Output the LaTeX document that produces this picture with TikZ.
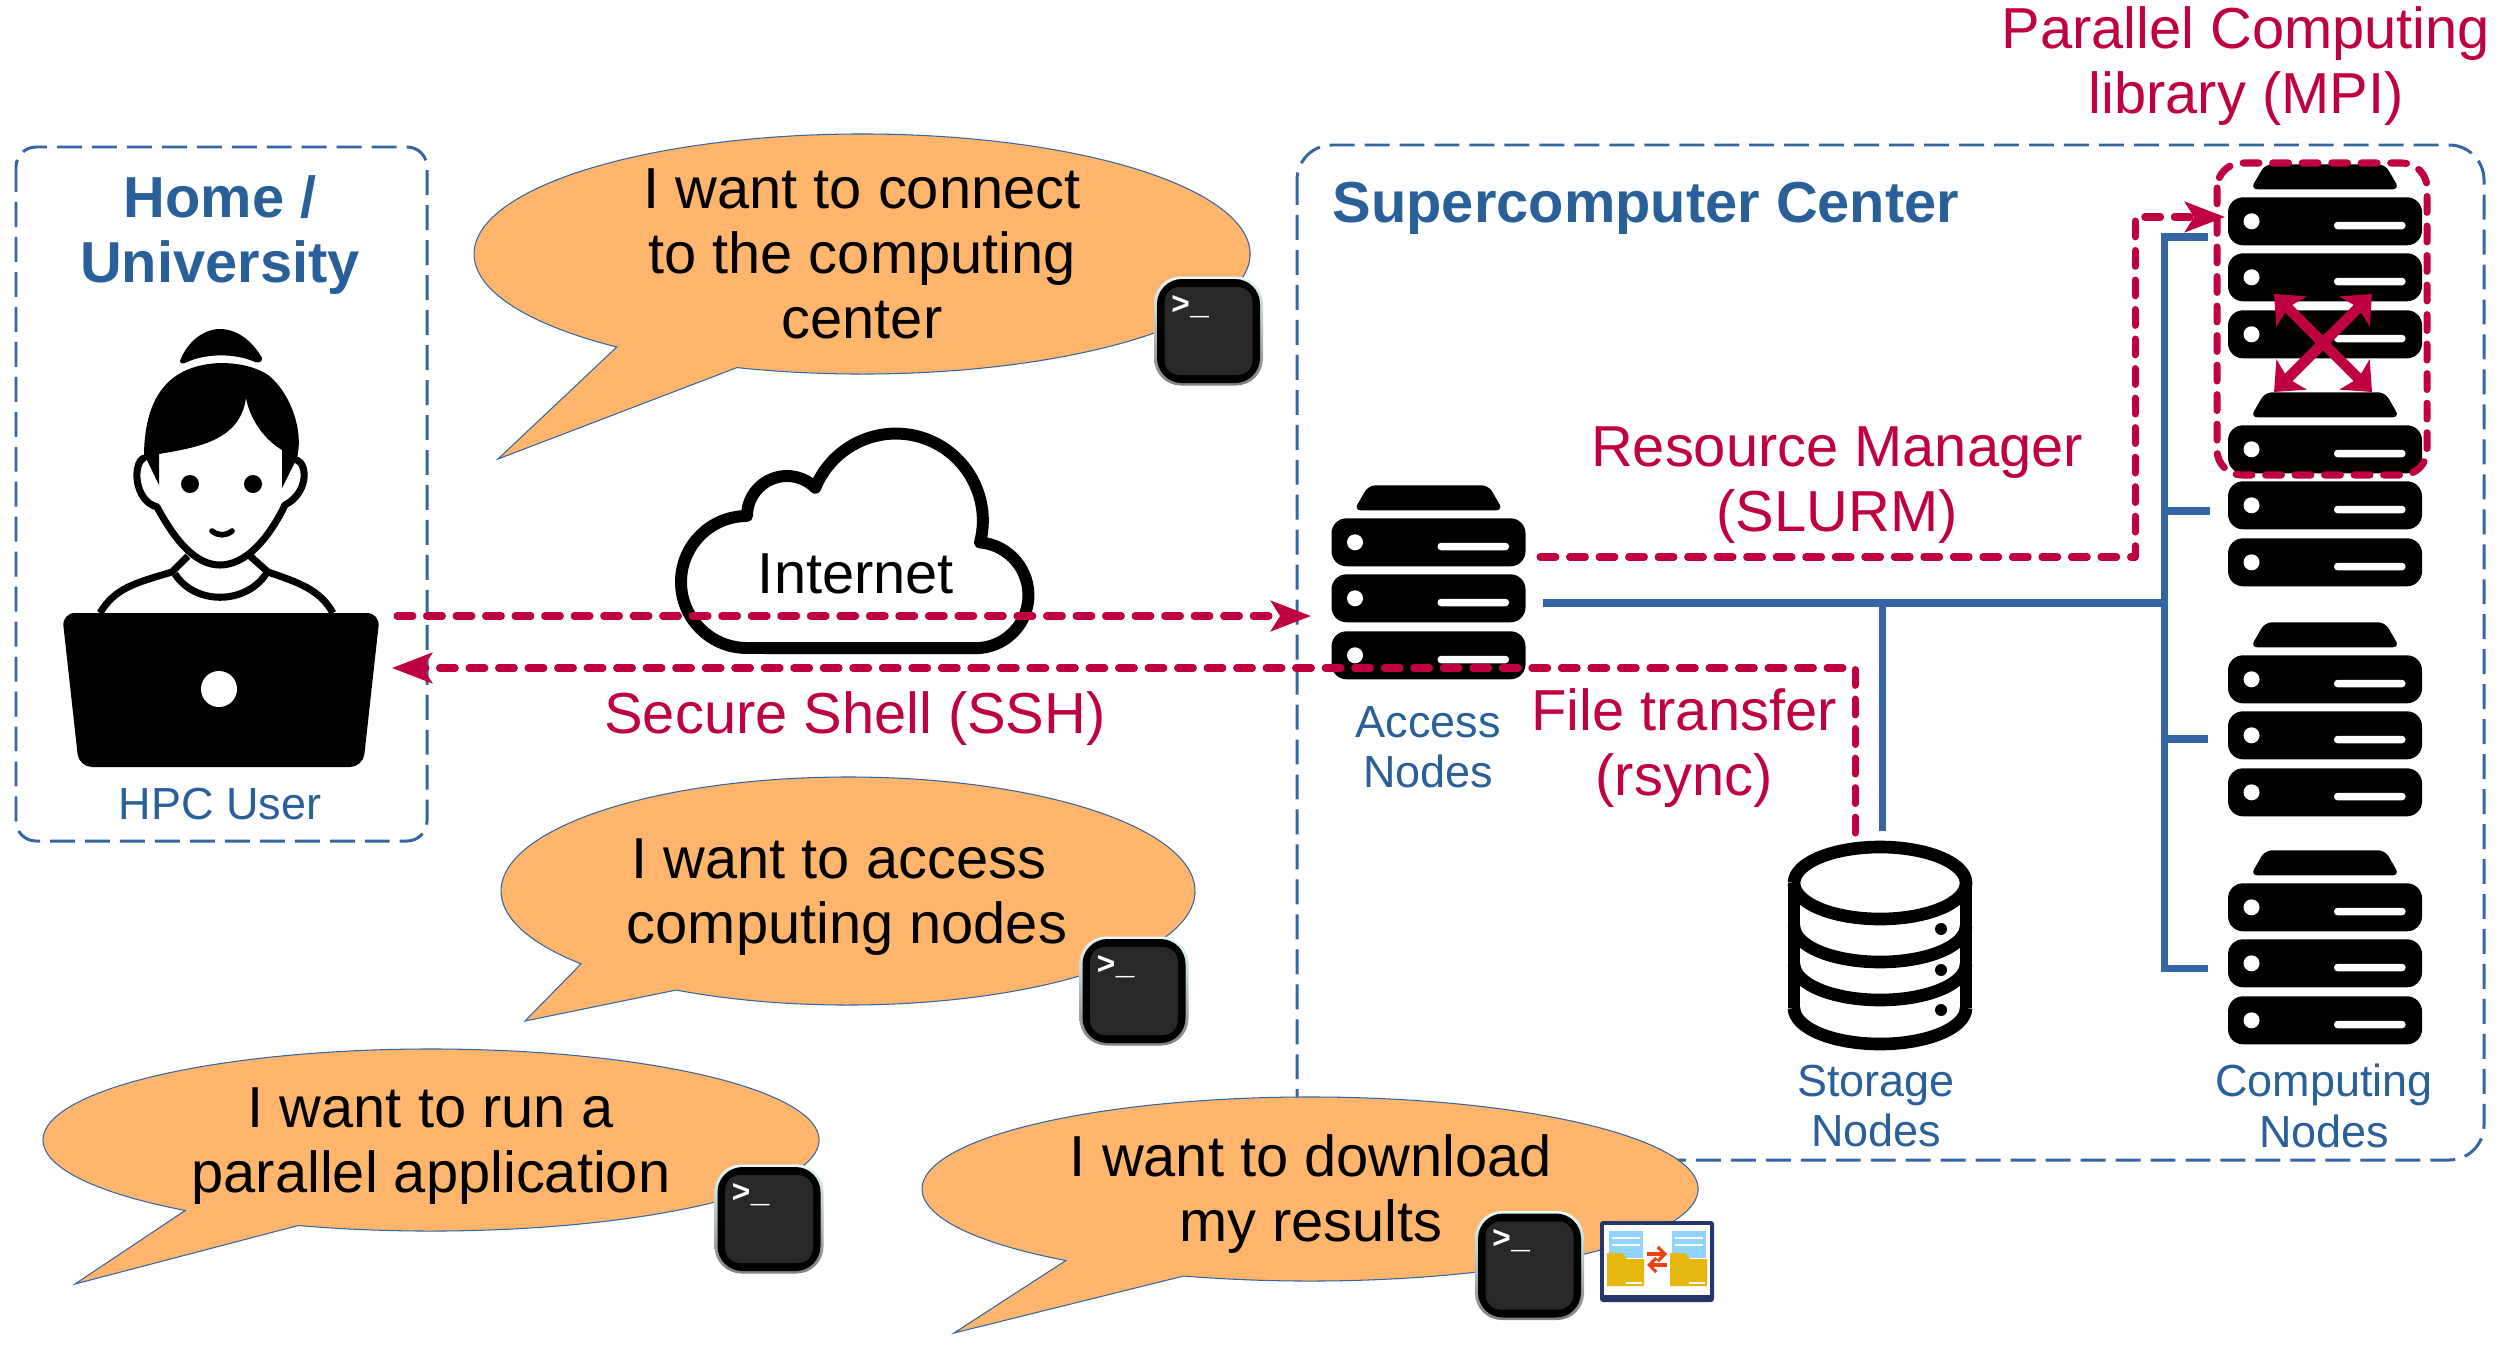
\documentclass[tikz,border=0pt]{standalone}
\usepackage{fontspec}
\setmainfont{Liberation Sans}
\newfontfamily\termfont{Liberation Mono}
\usetikzlibrary{arrows.meta,positioning}
\definecolor{sitedash}{HTML}{3465A4}
\definecolor{sitetext}{HTML}{2A6099}
\definecolor{linkred}{HTML}{BF0041}
\definecolor{bubblefill}{HTML}{FFB66C}
\definecolor{termdark}{HTML}{282828}
\definecolor{syncnavy}{HTML}{24366B}
\definecolor{syncpaper}{HTML}{90D4FF}
\definecolor{syncfolder}{HTML}{E6B70F}
\definecolor{syncarrow}{HTML}{F0400F}
\begin{document}
\begin{tikzpicture}[x=1cm,y=1cm]
\tikzset{
  bigtext/.style={font=\fontsize{16.45}{18.5}\selectfont,align=center,inner sep=0pt},
  smalltext/.style={font=\fontsize{12.8}{14.3}\selectfont,align=center,inner sep=0pt,text=sitetext},
  sitetitle/.style={bigtext,font=\fontsize{16.45}{18.5}\selectfont\bfseries,text=sitetext},
  linklabel/.style={bigtext,text=linkred},
  sitebox/.style={draw=sitedash,line width=0.85pt,dash pattern=on 7.1pt off 2.85pt},
  bubble/.style={draw=sitedash,line width=0.3pt,fill=bubblefill},
  iconbox/.style={inner sep=0pt,minimum width=1.93cm,minimum height=1.94cm},
  netline/.style={draw=sitedash,line width=2pt},
  linkline/.style={draw=linkred,line width=2pt,line cap=round,line join=round,dash pattern=on 4.5pt off 3.9pt},
  linkarrow/.style={linkline,-{Stealth[length=11.4pt,width=8.6pt,inset=2.6pt]}},
  crossarrow/.style={draw=linkred,line width=3pt,{Stealth[length=7pt,width=12pt,inset=1.5pt]}-{Stealth[length=7pt,width=12pt,inset=1.5pt]}},
  server/.pic={
    \fill[black,rounded corners=0.07cm] (-0.745,-0.25) -- (-0.60,0) -- (0.60,0) -- (0.745,-0.25) -- cycle;
    \foreach \ytop in {0.33,0.89,1.46} {
      \fill[black,rounded corners=0.15cm] (-0.97,-\ytop) rectangle (0.97,-\ytop-0.48);
      \fill[white] (-0.735,-\ytop-0.24) circle (0.08);
      \fill[white,rounded corners=0.035cm] (0.09,-\ytop-0.245) rectangle (0.805,-\ytop-0.32);
    }
  },
  terminal/.pic={
    \shade[rounded corners=0.27cm,top color=black!15!cyan!10!white,bottom color=black!50] (-0.545,-0.545) rectangle (0.545,0.545);
    \fill[black,rounded corners=0.25cm] (-0.515,-0.52) rectangle (0.515,0.52);
    \fill[termdark,rounded corners=0.15cm] (-0.44,-0.44) rectangle (0.44,0.44);
    \node[text=white,inner sep=0pt,font=\termfont\bfseries\fontsize{9}{9}\selectfont] at (-0.185,0.245) {>\_};
  },
  foldersync/.pic={
    \fill[syncnavy,rounded corners=0.03cm] (0,0) rectangle (1.14,-0.81);
    \fill[white] (0.04,-0.04) rectangle (1.10,-0.74);
    \foreach \xoff in {0,0.63} {
      \fill[syncpaper] (0.09+\xoff,-0.10) rectangle (0.43+\xoff,-0.37);
      \draw[white,line width=0.3pt] (0.12+\xoff,-0.17) -- (0.40+\xoff,-0.17);
      \draw[white,line width=0.3pt] (0.12+\xoff,-0.24) -- (0.40+\xoff,-0.24);
      \fill[syncfolder] (0.07+\xoff,-0.32) -- (0.22+\xoff,-0.32) -- (0.27+\xoff,-0.38) -- (0.44+\xoff,-0.38) -- (0.44+\xoff,-0.65) -- (0.07+\xoff,-0.65) -- cycle;
      \draw[white,line width=0.4pt] (0.26+\xoff,-0.62) -- (0.42+\xoff,-0.62);
    }
    \draw[syncarrow,line width=0.9pt,-{Straight Barb[length=2pt,width=4pt]}] (0.47,-0.33) -- (0.67,-0.33);
    \draw[syncarrow,line width=0.9pt,-{Straight Barb[length=2pt,width=4pt]}] (0.67,-0.44) -- (0.47,-0.44);
  }
}
\useasboundingbox (0,0) rectangle (25.01,-13.51);
\draw[sitebox,rounded corners=0.2cm] (0.16,-1.47) rectangle (4.27,-8.41);
\draw[sitebox,rounded corners=0.35cm] (12.97,-1.45) rectangle (24.84,-11.60);
\node[sitetitle] (n_home) at (2.20,-2.35) {Home /\\University};
\node[smalltext] (n_user_label) at (2.20,-8.04) {HPC User};
\node[sitetitle,anchor=west] (n_center) at (13.32,-2.08) {Supercomputer Center};
\fill[black] (1.80,-3.61) .. controls (1.88,-3.40) and (2.05,-3.29) .. (2.20,-3.29) .. controls (2.36,-3.29) and (2.52,-3.40) .. (2.62,-3.58) .. controls (2.62,-3.62) and (2.60,-3.63) .. (2.55,-3.62) .. controls (2.35,-3.53) and (2.05,-3.53) .. (1.85,-3.63) .. controls (1.81,-3.64) and (1.80,-3.63) .. (1.80,-3.61) -- cycle;
\fill[black] (2.20,-3.63) .. controls (1.70,-3.65) and (1.45,-3.95) .. (1.44,-4.54) -- (1.59,-4.85) -- (1.59,-4.54) .. controls (2.00,-4.47) and (2.40,-4.40) .. (2.46,-3.98) .. controls (2.50,-4.20) and (2.65,-4.40) .. (2.82,-4.50) -- (2.82,-4.88) -- (2.97,-4.58) .. controls (3.05,-4.25) and (2.85,-3.85) .. (2.65,-3.73) .. controls (2.50,-3.65) and (2.35,-3.63) .. (2.20,-3.63) -- cycle;
\draw[black,line width=2pt,line cap=round,line join=round] (1.57,-5.07) .. controls (1.75,-5.40) and (1.95,-5.65) .. (2.20,-5.65) .. controls (2.45,-5.65) and (2.68,-5.40) .. (2.85,-5.05);
\draw[black,line width=2pt,line cap=round] (1.44,-4.58) .. controls (1.33,-4.62) and (1.33,-5.00) .. (1.57,-5.07);
\draw[black,line width=2pt,line cap=round] (2.97,-4.60) .. controls (3.08,-4.65) and (3.08,-4.93) .. (2.85,-5.05);
\draw[black,line width=2pt] (1.88,-5.56) -- (1.72,-5.72) .. controls (1.35,-5.83) and (1.15,-5.88) .. (1.00,-6.13);
\draw[black,line width=2pt] (2.50,-5.56) -- (2.68,-5.72) .. controls (3.00,-5.83) and (3.20,-5.90) .. (3.33,-6.13);
\draw[black,line width=2pt] (1.75,-5.74) .. controls (1.95,-6.05) and (2.45,-6.05) .. (2.66,-5.74);
\fill[black] (1.90,-4.84) ellipse (0.09 and 0.09);
\fill[black] (2.53,-4.84) ellipse (0.09 and 0.09);
\draw[black,line width=1.6pt,line cap=round] (2.12,-5.31) .. controls (2.18,-5.36) and (2.26,-5.36) .. (2.32,-5.31);
\fill[black,rounded corners=0.13cm] (0.62,-6.13) -- (3.80,-6.13) -- (3.63,-7.67) -- (0.79,-7.67) -- cycle;
\fill[white] (2.19,-6.89) circle (0.18);
\node[inner sep=0pt,minimum width=3.18cm,minimum height=1.54cm] (n_user) at (2.21,-6.90) {};
\draw[black,fill=white,line width=3.4pt,line join=round] (7.47,-6.48) arc[start angle=-90,delta angle=-180,radius=0.66] arc[start angle=180,delta angle=-135,radius=0.40] arc[start angle=157.8,delta angle=-172.3,radius=0.87] arc[start angle=85,delta angle=-175,radius=0.53] -- cycle;
\node[bigtext] (n_net) at (8.56,-5.74) {Internet};
\node[iconbox] (n_access) at (14.285,-5.83) {};
\pic at (n_access.north) {server};
\node[smalltext] (n_access_label) at (14.28,-7.47) {Access\\Nodes};
\node[iconbox] (n_mpi0) at (23.25,-2.62) {};
\node[iconbox] (n_mpi1) at (23.25,-4.90) {};
\node[iconbox] (n_comp0) at (23.25,-7.20) {};
\node[iconbox] (n_comp1) at (23.25,-9.48) {};
\pic at (n_mpi0.north) {server};
\pic at (n_mpi1.north) {server};
\pic at (n_comp0.north) {server};
\pic at (n_comp1.north) {server};
\node[smalltext] (n_comp_label) at (23.24,-11.06) {Computing\\Nodes};
\draw[black,line width=3.6pt] (17.94,-8.83) arc[start angle=180,end angle=540,x radius=0.86,y radius=0.36];
\draw[black,line width=3.6pt] (17.94,-8.83) -- (17.94,-10.08);
\draw[black,line width=3.6pt] (19.66,-8.83) -- (19.66,-10.08);
\draw[black,line width=3.6pt] (17.94,-9.26) arc[start angle=180,end angle=360,x radius=0.86,y radius=0.36];
\draw[black,line width=3.6pt] (17.94,-9.64) arc[start angle=180,end angle=360,x radius=0.86,y radius=0.36];
\draw[black,line width=3.6pt] (17.94,-10.08) arc[start angle=180,end angle=360,x radius=0.86,y radius=0.36];
\fill[black] (19.41,-9.29) circle (0.06);
\fill[black] (19.41,-9.70) circle (0.06);
\fill[black] (19.41,-10.10) circle (0.06);
\node[inner sep=0pt,minimum width=1.84cm,minimum height=2.10cm] (n_storage) at (18.80,-9.45) {};
\node[smalltext] (n_storage_label) at (18.76,-11.06) {Storage\\Nodes};
\coordinate (c_left) at (15.43,-6.03);
\coordinate (c_mid) at (18.82,-6.03);
\coordinate (c_bus) at (21.64,-6.03);
\coordinate (c_down) at (18.82,-8.31);
\coordinate (c_top) at (21.64,-2.37);
\coordinate (c_end) at (21.64,-9.68);
\coordinate (c_b0) at (22.08,-2.37);
\coordinate (c_b1) at (22.10,-5.11);
\coordinate (c_b2) at (22.08,-7.39);
\coordinate (c_b3) at (22.08,-9.68);
\draw[netline] (c_left) -- (c_bus);
\draw[netline] (c_mid) -- (c_down);
\draw[netline] (c_b0) -- (c_top) -- (c_end) -- (c_b3);
\draw[netline] (c_b1) -| (c_bus);
\draw[netline] (c_b2) -| (c_bus);
\coordinate (c_ssh_out) at (3.97,-6.16);
\coordinate (c_ssh_in) at (13.11,-6.16);
\coordinate (c_rsync_in) at (3.92,-6.68);
\coordinate (c_rsync_turn) at (18.55,-6.68);
\coordinate (c_rsync_out) at (18.55,-8.33);
\coordinate (c_slurm_out) at (15.40,-5.57);
\coordinate (c_slurm_a) at (21.35,-5.57);
\coordinate (c_slurm_b) at (21.35,-2.17);
\coordinate (c_slurm_in) at (22.25,-2.17);
\draw[linkarrow] (c_ssh_out) -- (c_ssh_in);
\draw[linkarrow] (c_rsync_out) -- (c_rsync_turn) -- (c_rsync_in);
\draw[linkarrow] (c_slurm_out) -- (c_slurm_a) -- (c_slurm_b) -- (c_slurm_in);
\draw[linkline,rounded corners=0.25cm] (22.17,-1.63) rectangle (24.27,-4.75);
\coordinate (c_x0) at (22.74,-2.94);
\coordinate (c_x1) at (23.72,-2.94);
\coordinate (c_x2) at (22.74,-3.92);
\coordinate (c_x3) at (23.72,-3.92);
\draw[crossarrow] (c_x0) -- (c_x3);
\draw[crossarrow] (c_x1) -- (c_x2);
\node[linklabel] (n_mpi) at (22.46,-0.66) {Parallel Computing\\library (MPI)};
\node[linklabel] (n_slurm) at (18.37,-4.85) {Resource Manager\\(SLURM)};
\node[linklabel] (n_ssh) at (8.55,-7.19) {Secure Shell (SSH)};
\node[linklabel] (n_rsync) at (16.84,-7.48) {File transfer\\(rsync)};
\draw[bubble] (8.62,-2.54) ++(251.2:3.88 and 1.20) arc[start angle=251.2,end angle=590.8,x radius=3.88,y radius=1.20] -- (4.98,-4.59) -- cycle;
\draw[bubble] (8.48,-8.91) ++(240.3:3.47 and 1.14) arc[start angle=240.3,end angle=579.7,x radius=3.47,y radius=1.14] -- (5.25,-10.21) -- cycle;
\draw[bubble] (4.31,-11.40) ++(250:3.88 and 0.91) arc[start angle=250,end angle=590.7,x radius=3.88,y radius=0.91] -- (0.75,-12.84) -- cycle;
\draw[bubble] (13.10,-11.89) ++(251:3.88 and 0.92) arc[start angle=251,end angle=591,x radius=3.88,y radius=0.92] -- (9.54,-13.33) -- cycle;
\node[bigtext] (n_say0) at (8.62,-2.54) {I want to connect\\to the computing\\center};
\node[bigtext] (n_say1) at (8.47,-8.97) {I want to access\hspace*{0.28em}\\computing nodes};
\node[bigtext] (n_say2) at (4.31,-11.46) {I want to run a\\parallel application};
\node[bigtext] (n_say3) at (13.11,-11.94) {I want to download\\my results};
\pic at (12.085,-3.31) {terminal};
\pic at (11.34,-9.91) {terminal};
\pic at (7.69,-12.19) {terminal};
\pic at (15.295,-12.655) {terminal};
\pic at (16.00,-12.21) {foldersync};
\end{tikzpicture}
\end{document}
